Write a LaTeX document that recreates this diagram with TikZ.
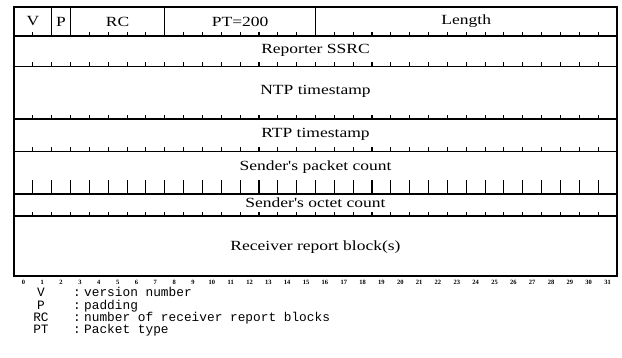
\documentclass[tikz,border=0pt]{standalone}
\usepackage{fontspec}
\newfontfamily\fieldfont[FakeStretch=1.25]{Liberation Serif}
\newfontfamily\legfont{Liberation Mono}
\newfontfamily\numfont{Liberation Serif}
\begin{document}
\begin{tikzpicture}[x=1pt,y=-1pt,
  field/.style={font=\fieldfont\fontsize{14}{14}\selectfont, inner sep=0pt},
  legend/.style={font=\legfont\fontsize{12.8}{12.8}\selectfont, inner sep=0pt, text height=7.5pt, text depth=2pt},
  bitnum/.style={font=\numfont\bfseries\fontsize{6.5}{6.5}\selectfont, inner sep=0pt},
  frame/.style={line width=1.3pt},
  tick/.style={line width=1.1pt}]
\useasboundingbox[fill=white] (0,0) rectangle (622,358);
\def\L{14}\def\R{617}\def\bw{18.84375}
% outer frame and row lines
\draw[frame] (\L,7) rectangle (\R,276);
\draw[line width=2pt] (\L,276) -- (\R,276);
\foreach \y in {36,66.5,119,151.5,194,216}
  \draw[frame] (\L,\y) -- (\R,\y);
% field separators in first row
\foreach \k in {2,3,8,16}
  \draw[frame] ({\L+\k*\bw},7) -- ({\L+\k*\bw},36);
% small ticks
\foreach \y in {36,66.5,119,151.5,216}
  \foreach \k in {1,...,31}
    \draw[tick] ({\L+\k*\bw},\y) -- ++(0,-4);
% tall ticks
\foreach \k in {1,...,31}
  \draw[tick] ({\L+\k*\bw},194) -- ++(0,-14);
% field labels
\node[field] (v)   at ({\L+1*\bw},21.5) {V};
\node[field] (p)   at ({\L+2.5*\bw},21.5) {P};
\node[field] (rc)  at ({\L+5.5*\bw},21.5) {RC};
\node[field] (pt)  at ({\L+12*\bw},21.5) {PT=200};
\node[field] (len) at ({\L+24*\bw},21.5) {Length};
\node[field] (ssrc) at (315.5,50) {Reporter SSRC};
\node[field] (ntp)  at (315.5,91) {NTP timestamp};
\node[field] (rtp)  at (315.5,134) {RTP timestamp};
\node[field] (spc)  at (315.5,167) {Sender's packet count};
\node[field] (soc)  at (315.5,203) {Sender's octet count};
\node[field] (rrb)  at (315.5,247) {Receiver report block(s)};
% bit numbers
\foreach \k in {0,...,31}
  \node[bitnum] (b\k) at ({\L+(\k+0.5)*\bw},282.5) {\k};
% legend
\node[legend] (lv)  at (41,293.5) {V};
\node[legend] (lp)  at (41,306.5) {P};
\node[legend] (lrc) at (41,318.5) {RC};
\node[legend] (lpt) at (41,331) {PT};
\node[legend] (cv)  at (77,293.5) {:};
\node[legend] (cp)  at (77,306.5) {:};
\node[legend] (crc) at (77,318.5) {:};
\node[legend] (cpt) at (77,331) {:};
\node[legend,anchor=west] (tv)  at (84,293.5) {version number};
\node[legend,anchor=west] (tp)  at (84,306.5) {padding};
\node[legend,anchor=west] (trc) at (84,318.5) {number of receiver report blocks};
\node[legend,anchor=west] (tpt) at (84,331) {Packet type};
\end{tikzpicture}
\end{document}
